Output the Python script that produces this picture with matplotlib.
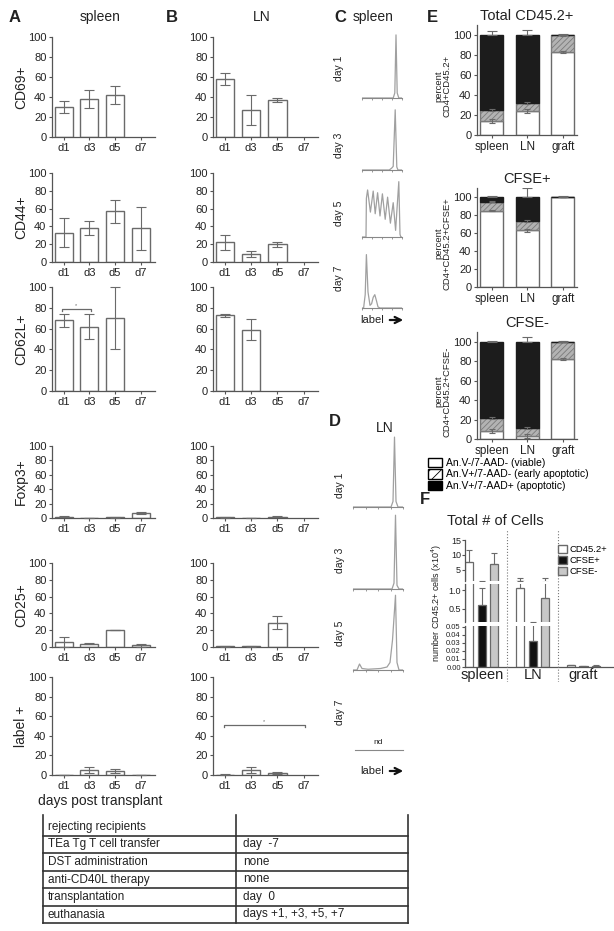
import matplotlib.pyplot as plt
import numpy as np
from matplotlib.patches import Patch

plt.rcParams['font.family'] = ['Liberation Sans', 'DejaVu Sans']
plt.rcParams['hatch.linewidth'] = 0.6

W, H = 614, 931
AX_GREY = '#555555'
BAR_EDGE = '#6a6a6a'
HIST_GREY = '#a0a0a0'
nan = np.nan

# ---- panels A / B : % positive of transferred cells ----
days = ['d1', 'd3', 'd5', 'd7']
markers = ['CD69+', 'CD44+', 'CD62L+', 'Foxp3+', 'CD25+', 'label +']

spleen_mean = [[30, 38, 42, nan], [33, 38, 57, 38], [68, 62, 70, nan],
               [1.5, 0.3, 1.0, 7.0], [6, 4, 20, 2], [0.3, 5, 4, 0.3]]
spleen_err = [[6, 9, 9, nan], [16, 8, 13, 24], [6, 12, 30, nan],
              [0.8, 0.2, 0.8, 1.0], [6, 1, 0, 1.5], [0, 3, 2, 0]]
ln_mean = [[58, 27, 37, nan], [22, 9, 20, nan], [73, 59, nan, nan],
           [0.8, 0.4, 2.0, nan], [0.8, 0.8, 29, nan], [0.5, 5, 2, nan]]
ln_err = [[6, 15, 2, nan], [8, 3, 3, nan], [1.5, 10, nan, nan],
          [0.5, 0.2, 1.0, nan], [0.5, 0.5, 8, nan], [0.3, 3, 1, nan]]

# significance brackets: (row, from, to, height)
sig_spleen = [(2, 0, 1, 79)]
sig_ln = [(5, 0, 3, 51)]

# ---- panels C / D : label dilution histograms (x, relative count) ----
spleen_hist = {
    'day 1': [(0, 0), (0.78, 0), (0.82, 0.08), (0.85, 1.0), (0.88, 0.08), (0.92, 0), (1, 0)],
    'day 3': [(0, 0), (0.68, 0), (0.74, 0.03), (0.78, 0.06), (0.83, 1.0), (0.87, 0.05),
              (0.9, 0), (1, 0)],
    'day 5': [(0, 0), (0.1, 0), (0.11, 0.7), (0.14, 0.85), (0.21, 0.45), (0.28, 0.83),
              (0.33, 0.42), (0.39, 0.8), (0.45, 0.38), (0.51, 0.78), (0.58, 0.32),
              (0.64, 0.72), (0.71, 0.25), (0.78, 0.62), (0.84, 0.12), (0.92, 1.0),
              (0.95, 0.05), (0.97, 0), (1, 0)],
    'day 7': [(0, 0), (0.04, 0), (0.08, 0.25), (0.11, 1.0), (0.15, 0.3), (0.2, 0.05),
              (0.24, 0.08), (0.28, 0.2), (0.32, 0.25), (0.36, 0.14), (0.4, 0.02),
              (0.45, 0), (1, 0)],
}
ln_hist = {
    'day 1': [(0, 0), (0.76, 0), (0.8, 0.08), (0.83, 1.0), (0.86, 0.08), (0.9, 0), (1, 0)],
    'day 3': [(0, 0), (0.78, 0), (0.82, 0.08), (0.85, 1.0), (0.88, 0.05), (0.92, 0), (1, 0)],
    'day 5': [(0, 0), (0.08, 0), (0.13, 0.08), (0.18, 0.02), (0.3, 0.01), (0.55, 0.02),
              (0.68, 0.04), (0.74, 0.1), (0.79, 0.4), (0.85, 1.0), (0.88, 0.1),
              (0.92, 0), (1, 0)],
    'day 7': None,
}

# ---- panel E : apoptosis stacked bars ----
tissues = ['spleen', 'LN', 'graft']
e_titles = ['Total CD45.2+', 'CFSE+', 'CFSE-']
e_ylabels = ['percent\nCD4+CD45.2+', 'percent\nCD4+CD45.2+CFSE+', 'percent\nCD4+CD45.2+CFSE-']
viable = [[14, 24, 83], [85, 63, 100], [8, 3, 82]]
early_apo = [[11, 8, 17], [10, 10, 0], [14, 8, 18]]
apoptotic = [[75, 68, 0], [5, 27, 0], [78, 89, 0]]
total_err = [[4, 5, 1], [1, 10, 1], [0.5, 5, 1]]
viable_err = [[2, 2, 1], [1, 2, 0.5], [2, 2, 1]]
early_err = [[1, 1, 0.5], [1, 1, 0], [1, 1, 0.5]]
e_legend = ['An.V-/7-AAD- (viable)', 'An.V+/7-AAD- (early apoptotic)',
            'An.V+/7-AAD+ (apoptotic)']

# ---- panel F : number of cells (x10^4) ----
f_series = ['CD45.2+', 'CFSE+', 'CFSE-']
cd452 = [7.5, 1.05, 0.002]
cd452_err = [4.0, 1.25, 0.0005]
cfse_pos = [0.6, 0.032, 0.0008]
cfse_pos_err = [0.45, 0.12, 0.0002]
cfse_neg = [7.0, 0.78, 0.0018]
cfse_neg_err = [3.5, 1.5, 0.0005]

# ---- protocol table ----
table_rows = [('rejecting recipients', ''),
              ('TEa Tg T cell transfer', 'day  -7'),
              ('DST administration', 'none'),
              ('anti-CD40L therapy', 'none'),
              ('transplantation', 'day  0'),
              ('euthanasia', 'days +1, +3, +5, +7')]

# pixel layout
ROWS = [(37, 137), (173, 262), (287, 391), (446, 518), (563, 647), (677, 775)]
C_ROWS = [(33, 98), (108, 170), (180, 237), (253, 308)]
C_LABEL_Y = [68, 145, 213, 278]
D_ROWS = [(435, 507), (513, 589), (593, 670), None]
D_LABEL_Y = [485, 560, 633, 712]
E_ROWS = [(25, 135), (188, 287), (332, 439)]
F_SEGS = [(540, 581, 1.2, 15, [5, 10, 15], ['5', '10', '15'], 6.5),
          (584, 622, 0.14, 1.17, [0.5, 1.0], ['0.5', '1.0'], 6.5),
          (626, 667, 0, 0.0512, [0, 0.01, 0.02, 0.03, 0.04, 0.05],
           ['0.00', '0.01', '0.02', '0.03', '0.04', '0.05'], 5.5)]


def px_axes(fig, left, top, right, bottom):
    return fig.add_axes([left / W, 1 - bottom / H, (right - left) / W, (bottom - top) / H])


def style_axes(ax, fs=8):
    for s in ['top', 'right']:
        ax.spines[s].set_visible(False)
    for s in ['left', 'bottom']:
        ax.spines[s].set_color(AX_GREY)
        ax.spines[s].set_linewidth(0.9)
    ax.tick_params(colors=AX_GREY, labelcolor='#222222', labelsize=fs,
                   length=2.5, width=0.8, pad=1.5)
    ax.patch.set_alpha(0)


def bar_panel(ax, mean, err, sigs):
    x = np.arange(len(days))
    m = np.array(mean, float)
    e = np.array(err, float)
    ok = ~np.isnan(m)
    ax.bar(x[ok], m[ok], width=0.7, color='white', edgecolor=BAR_EDGE, linewidth=1.0, zorder=2)
    ax.errorbar(x[ok], m[ok], yerr=e[ok], fmt='none', ecolor=BAR_EDGE, elinewidth=0.8,
                capsize=3.5, capthick=0.8, zorder=3, clip_on=False)
    for a, b, h in sigs:
        ax.plot([a - 0.05, a - 0.05, b + 0.05, b + 0.05], [h - 2, h, h, h - 2],
                color=BAR_EDGE, lw=0.9, clip_on=False)
        ax.text((a + b) / 2, h + 0.5, '*', fontsize=4, ha='center', va='bottom', color=BAR_EDGE)
    style_axes(ax)
    ax.set_xlim(-0.45, 3.55)
    ax.set_ylim(0, 100)
    ax.set_xticks(x)
    ax.set_xticklabels(days)
    ax.set_yticks(range(0, 101, 20))


def hist_panel(ax, pts):
    ax.set_xlim(0, 1)
    ax.set_ylim(0, 1.03)
    if pts is not None:
        xs, ys = zip(*pts)
        ax.plot(xs, ys, color=HIST_GREY, lw=0.9)
    for s in ['top', 'right', 'left']:
        ax.spines[s].set_visible(False)
    ax.spines['bottom'].set_color('#888888')
    ax.spines['bottom'].set_linewidth(0.8)
    ax.set_yticks([])
    ax.set_xticks([0, 0.25, 0.5, 0.75, 1.0])
    ax.tick_params(axis='x', length=1.5, width=0.6, colors='#888888', labelbottom=False)
    ax.patch.set_alpha(0)


def stacked_panel(ax, i):
    x = np.arange(len(tissues))
    v = np.array(viable[i], float)
    ea = np.array(early_apo[i], float)
    ap = np.array(apoptotic[i], float)
    ax.bar(x, v, 0.65, color='white', edgecolor=BAR_EDGE, lw=1.0)
    ax.bar(x, ea, 0.65, bottom=v, color='#b3b3b3', edgecolor='#7a7a7a', hatch='//////', lw=1.0)
    ax.bar(x, ap, 0.65, bottom=v + ea, color='#1c1c1c', edgecolor='#1c1c1c', lw=1.0)
    kw = dict(fmt='none', ecolor=BAR_EDGE, elinewidth=0.8, capthick=0.8)
    ax.errorbar(x, v + ea + ap, yerr=[np.zeros(3), total_err[i]], capsize=3.5, **kw)
    ax.errorbar(x, v, yerr=viable_err[i], capsize=2.5, **kw)
    ax.errorbar(x, v + ea, yerr=early_err[i], capsize=2.5, **kw)
    style_axes(ax)
    ax.set_xlim(-0.42, 2.4)
    ax.set_ylim(0, 110)
    ax.set_yticks(range(0, 101, 20))
    ax.set_xticks(x)
    ax.set_xticklabels(tissues, fontsize=8.5)


def cell_number_panel(fig):
    x = np.arange(len(tissues))
    series = [(cd452, cd452_err, 'white'), (cfse_pos, cfse_pos_err, '#111111'),
              (cfse_neg, cfse_neg_err, '#c8c8c8')]
    for i, (top, bot, lo, hi, ticks, labels, fs) in enumerate(F_SEGS):
        ax = px_axes(fig, 465, top, 614, bot)
        for k, (vals, errs, col) in enumerate(series):
            xs = x + (k - 1) * 0.245
            ax.bar(xs, vals, 0.16, color=col, edgecolor=BAR_EDGE, lw=0.9)
            ax.errorbar(xs, vals, yerr=[np.zeros(3), errs], fmt='none', ecolor=BAR_EDGE,
                        elinewidth=0.8, capsize=2.5, capthick=0.8)
        style_axes(ax, fs=fs)
        ax.set_xlim(-0.33, 2.6)
        ax.set_ylim(lo, hi)
        ax.set_yticks(ticks)
        ax.set_yticklabels(labels)
        ax.tick_params(axis='y', length=2, pad=1)
        if i < len(F_SEGS) - 1:
            ax.spines['bottom'].set_visible(False)
            ax.set_xticks([])
        else:
            ax.set_xticks(x)
            ax.set_xticklabels(tissues, fontsize=10.5)
            ax.tick_params(axis='x', length=0, pad=1)
    fx = px_axes(fig, 465, 530, 614, 682)
    fx.set_xlim(-0.33, 2.6)
    fx.set_ylim(0, 1)
    fx.vlines([0.5, 1.5], 0, 1, colors='#777777', lw=0.8, linestyles=':')
    fx.axis('off')
    handles = [Patch(facecolor=c, edgecolor=BAR_EDGE) for _, _, c in series]
    fig.legend(handles, f_series, loc='upper left', bbox_to_anchor=(558 / W, 1 - 545 / H),
               frameon=False, fontsize=6.8, handlelength=0.9, handleheight=1.0,
               handletextpad=0.3, labelspacing=0.15, borderpad=0, borderaxespad=0)


def main():
    fig = plt.figure(figsize=(W / 100, H / 100), dpi=100)

    for r, (top, bot) in enumerate(ROWS):
        ax = px_axes(fig, 52, top, 155, bot)
        bar_panel(ax, spleen_mean[r], spleen_err[r], [s[1:] for s in sig_spleen if s[0] == r])
        ax = px_axes(fig, 213, top, 318, bot)
        bar_panel(ax, ln_mean[r], ln_err[r], [s[1:] for s in sig_ln if s[0] == r])

    for (top, bot), pts in zip(C_ROWS, spleen_hist.values()):
        hist_panel(px_axes(fig, 362, top, 402, bot), pts)
    for rows, pts in zip(D_ROWS, ln_hist.values()):
        if rows is not None:
            hist_panel(px_axes(fig, 353, rows[0], 403, rows[1]), pts)

    for i, (top, bot) in enumerate(E_ROWS):
        stacked_panel(px_axes(fig, 477, top, 577, bot), i)

    leg_handles = [Patch(facecolor='white', edgecolor='black'),
                   Patch(facecolor='white', edgecolor='black', hatch='///'),
                   Patch(facecolor='black', edgecolor='black')]
    fig.legend(leg_handles, e_legend, loc='upper left', bbox_to_anchor=(428 / W, 1 - 458 / H),
               frameon=False, fontsize=7.5, handlelength=1.3, handleheight=1.0,
               handletextpad=0.4, labelspacing=0.1, borderpad=0, borderaxespad=0)

    cell_number_panel(fig)

    # overlay for labels, annotations and the table (pixel coordinates)
    ov = fig.add_axes([0, 0, 1, 1])
    ov.set_xlim(0, W)
    ov.set_ylim(H, 0)
    ov.axis('off')
    txt = dict(ha='center', va='center', color='#222222')
    for s, (x, y) in zip('ABCDEF', [(15, 17), (172, 17), (340, 17), (335, 422), (432, 17), (425, 500)]):
        ov.text(x, y, s, fontsize=12, fontweight='bold', **txt)
    ov.text(100, 17, 'spleen', fontsize=10, **txt)
    ov.text(262, 17, 'LN', fontsize=10, **txt)
    ov.text(373, 17, 'spleen', fontsize=10, **txt)
    ov.text(385, 428, 'LN', fontsize=10, **txt)
    for name, (top, bot) in zip(markers, ROWS):
        ov.text(21, (top + bot) / 2, name, fontsize=10, rotation=90, **txt)
    ov.text(100, 801, 'days post transplant', fontsize=10, **txt)
    for name, y in zip(spleen_hist.keys(), C_LABEL_Y):
        ov.text(339, y, name, fontsize=7.5, rotation=90, **txt)
    for name, y in zip(ln_hist.keys(), D_LABEL_Y):
        ov.text(340, y, name, fontsize=7.5, rotation=90, **txt)
    for y in [320, 771]:
        ov.text(360, y, 'label', fontsize=8, ha='left', va='center', color='#222222')
        ov.annotate('', xy=(406, y), xytext=(387, y),
                    arrowprops=dict(arrowstyle='->', lw=1.6, color='#111111', mutation_scale=11))
    ov.plot([355, 403], [750, 750], color='#888888', lw=0.8)
    ov.text(378, 743, 'nd', fontsize=6, **txt)

    for title, ylab, (top, bot) in zip(e_titles, e_ylabels, E_ROWS):
        ov.text(527, top - 9, title, fontsize=10.5, **txt)
        ov.text(443, (top + 12 + bot) / 2, ylab, fontsize=6.8, rotation=90,
                multialignment='center', linespacing=1.0, **txt)
    ov.text(495, 521, 'Total # of Cells', fontsize=10.5, **txt)
    ov.text(437, 603, 'number CD45.2+ cells (x10$^4$)', fontsize=6.5, rotation=90, **txt)

    # protocol table
    lines = [836, 853, 871, 888, 906, 923]
    tkw = dict(color='#333333', lw=1.2)
    for xv in [43, 236, 408]:
        ov.plot([xv, xv], [815, 923], **tkw)
    for y in lines:
        ov.plot([43, 408], [y, y], **tkw)
    row_y = [827] + [(a + b) / 2 for a, b in zip(lines[:-1], lines[1:])]
    for (left, right), y in zip(table_rows, row_y):
        ov.text(48, y, left, fontsize=8.5, ha='left', va='center', color='#222222')
        ov.text(243, y, right, fontsize=8.5, ha='left', va='center', color='#222222')

    fig.savefig('out.png', dpi=100)
    plt.close(fig)


if __name__ == '__main__':
    main()
